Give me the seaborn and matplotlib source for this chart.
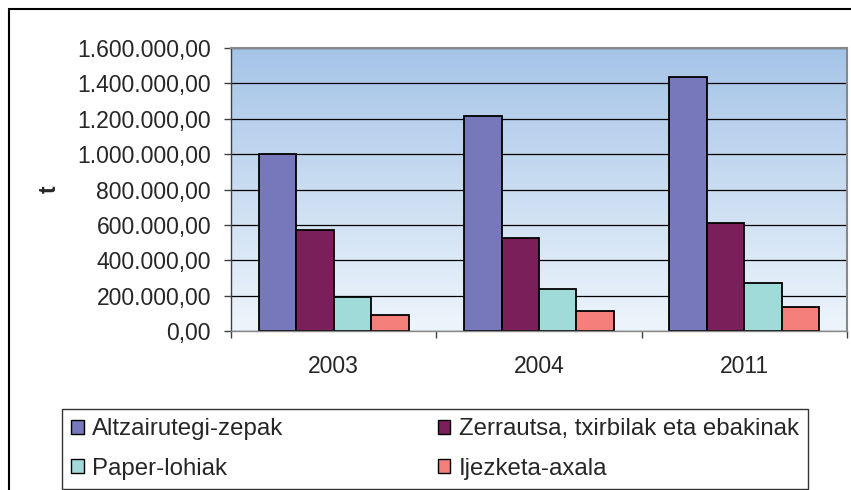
import numpy as np
import pandas as pd
import seaborn as sns
import matplotlib.pyplot as plt
from matplotlib.patches import Patch, Rectangle
from matplotlib.ticker import FuncFormatter, FixedLocator
from matplotlib.colors import LinearSegmentedColormap

# datuak
urteak = ['2003', '2004', '2011']
motak = ['Altzairutegi-zepak', 'Zerrautsa, txirbilak eta ebakinak', 'Paper-lohiak', 'Ijezketa-axala']
altzairutegi = [1000000, 1215000, 1434000]
zerrautsa = [571000, 527000, 612000]
paper = [194000, 237000, 270000]
ijezketa = [90000, 113000, 134000]
koloreak = ['#7777bb', '#7b1f5a', '#a0dad9', '#f57f7b']

df = pd.DataFrame({
    'urtea': urteak * 4,
    'mota': [m for m in motak for _ in urteak],
    't': altzairutegi + zerrautsa + paper + ijezketa,
})

sns.set_style('white')
plt.rcParams['font.family'] = ['Liberation Sans', 'DejaVu Sans']
fs = 16.5

fig = plt.figure(figsize=(8.51, 4.90), dpi=100)
ax = fig.add_axes([231 / 851, 1 - 331 / 490, (847 - 231) / 851, (331 - 48) / 490])

sns.barplot(data=df, x='urtea', y='t', hue='mota', hue_order=motak, palette=koloreak,
            width=0.73, gap=0, edgecolor='black', linewidth=1.3, saturation=1,
            legend=False, ax=ax, zorder=2)

# atzeko gradientea
grad = np.linspace(0, 1, 256).reshape(-1, 1)
cmap = LinearSegmentedColormap.from_list('bg', ['#eef5fc', '#a5c4e7'])
ax.imshow(grad, cmap=cmap, origin='lower', aspect='auto', extent=[0, 1, 0, 1],
          transform=ax.transAxes, zorder=0)

ax.set_xlim(-0.5, 2.5)
ax.set_ylim(0, 1600000)
ax.set_yticks(np.arange(0, 1600001, 200000))
ax.yaxis.set_major_formatter(FuncFormatter(lambda v, p: f'{v:,.2f}'.replace(',', 'X').replace('.', ',').replace('X', '.')))
ax.grid(axis='y', color='black', linewidth=0.9)
for gl in ax.get_ygridlines():
    gl.set_zorder(1)

ax.tick_params(axis='y', direction='out', length=5, width=1, pad=9.4, labelsize=fs, left=True, color='#404040')
ax.xaxis.set_major_locator(FixedLocator([-0.5, 0.5, 1.5, 2.5]))
ax.xaxis.set_minor_locator(FixedLocator([0, 1, 2]))
ax.set_xticklabels([], minor=False)
ax.set_xticklabels(urteak, minor=True)
ax.tick_params(axis='x', which='major', direction='out', length=5, width=1, bottom=True, color='#404040')
ax.tick_params(axis='x', which='minor', length=0, pad=17, labelsize=fs)
ax.set_xlabel('')
ax.set_ylabel('')

for s in ['top', 'right']:
    ax.spines[s].set_color('#888888')
    ax.spines[s].set_linewidth(1.5)
ax.spines['left'].set_color('#404040')
ax.spines['bottom'].set_color('#888888')
ax.spines['left'].set_linewidth(1)
ax.spines['bottom'].set_linewidth(1)

fig.text(49 / 851, 1 - 189 / 490, 't', rotation=90, fontsize=fs, fontweight='bold',
         ha='center', va='center')

# kanpoko markoa
fig.patches.append(Rectangle((9 / 851, -0.2), 1.2, 1.2 - 9 / 490, transform=fig.transFigure,
                             fill=False, edgecolor='black', linewidth=1.5, zorder=0))

# legenda errenkadaka: ncol=2 zutabeka betetzen denez, ordena aldatu
ordena = [0, 2, 1, 3]
handles = [Patch(facecolor=koloreak[i], edgecolor='black', linewidth=1) for i in ordena]
labels = [motak[i] for i in ordena]
leg = fig.legend(handles, labels, ncol=2, loc='lower left', mode='expand',
                 bbox_to_anchor=(62 / 851, 1 - 489 / 490, 746 / 851, 81 / 490),
                 fontsize=17.3, frameon=True, fancybox=False, framealpha=1,
                 edgecolor='#333333', handlelength=0.52, handleheight=0.52,
                 handletextpad=0.35, labelspacing=0.72, borderpad=0.39, borderaxespad=0)
leg.get_frame().set_linewidth(1)

fig.savefig('out.png', dpi=100)
